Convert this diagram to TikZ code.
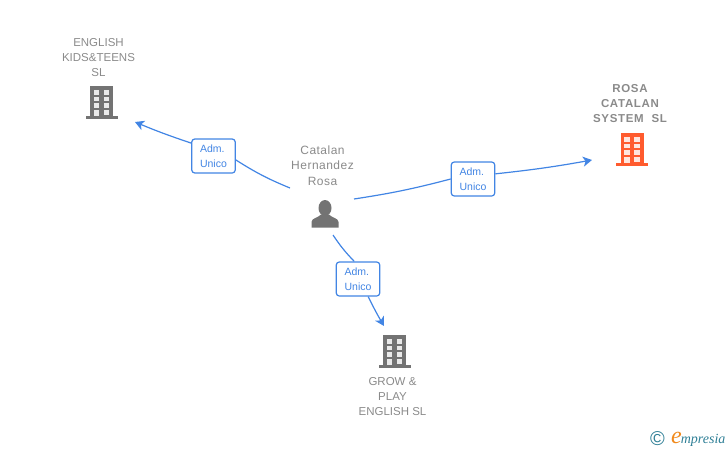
\documentclass[tikz,border=0pt]{standalone}
\usepackage{fontspec}
\setmainfont{Liberation Sans}
\newfontfamily\titlefont[LetterSpace=6]{Liberation Sans}
\newfontfamily\labelfont[LetterSpace=4]{Liberation Sans}
\newfontfamily\logofont{Liberation Serif}
\usepackage{tikz}
\usetikzlibrary{positioning}
\usetikzlibrary{arrows.meta}
\definecolor{linkblue}{HTML}{4285E4}
\definecolor{labelgrey}{HTML}{8A8A8A}
\definecolor{icongrey}{HTML}{737373}
\definecolor{mainorange}{HTML}{FF5B2E}
\definecolor{logoteal}{HTML}{2F7F96}
\definecolor{logoorange}{HTML}{F08A1D}
\tikzset{
  link/.style={draw=linkblue, line width=1.2pt},
  role/.style={draw=linkblue, line width=1.2pt, rounded corners=3pt, fill=white,
    minimum width=43.5pt, minimum height=34pt, inner sep=0pt, align=left,
    text=linkblue, font=\fontsize{10.5}{15}\selectfont},
  company/.style={text=labelgrey, align=center, inner sep=0pt, font=\fontsize{11.5}{15}\selectfont},
  person/.style={text=labelgrey, align=center, inner sep=0pt, font=\labelfont\fontsize{12}{15.5}\selectfont},
  mainco/.style={text=labelgrey, align=center, inner sep=0pt, font=\titlefont\bfseries\fontsize{11.5}{15}\selectfont},
  pics/tower/.style={code={
    \fill [#1] (-11.5,-17) rectangle (11.5,13);
    \fill [#1] (-16,13) rectangle (16,16);
    \foreach \c in {-8,2}
      \foreach \r in {-13,-6.5,0}
        \fill [white, opacity=.85] (\c,\r) rectangle ++(5.5,4.5);
    \fill [white, opacity=.85] (-8,7) rectangle ++(5.5,6);
    \fill [white, opacity=.85] (2,7) rectangle ++(5.5,4.5);
  }},
}
\begin{document}
\begin{tikzpicture}[x=1pt, y=-1pt, >={Stealth[length=9pt, width=10pt, inset=2.5pt]}]%
\useasboundingbox (0,0) rectangle (728,450);

\pic at (101.5,103) {tower=icongrey};
\pic at (632,150) {tower=mainorange};
\pic at (394.5,352) {tower=icongrey};

% person icon
\fill [icongrey] (325,208) ellipse (6.5 and 8);
\fill [icongrey] (311.5,227.5) -- (311.5,222) .. controls (311.5,218) and (318,218) .. (321,214.5)
  -- (329,214.5) .. controls (332,218) and (338.5,218) .. (338.5,222) -- (338.5,227.5) -- cycle;

\node [company] (english) at (98.5,58) {ENGLISH\\KIDS\&TEENS\\SL};
\node [mainco] (rosa) at (630,104) {ROSA\\CATALAN\\SYSTEM\ \ SL};
\node [company] (grow) at (392.5,397) {GROW \&\\PLAY\\ENGLISH SL};
\node [person] (catalan) at (322.5,165.5) {Catalan\\Hernandez\\Rosa};

\node [role] (adm-left) at (213.5,156) {Adm.\\Unico};
\node [role] (adm-right) at (473,179) {Adm.\\Unico};
\node [role] (adm-down) at (358,279) {Adm.\\Unico};

\coordinate (from-left) at (290,188);
\coordinate (from-right) at (354,199);
\coordinate (from-down) at (333,235);
\coordinate (to-english) at (135,122);
\coordinate (to-rosa) at (592,160);
\coordinate (to-grow) at (384,326);

\draw [link] (from-left) to [bend left=5] (adm-left.-10);
\draw [link, ->] (adm-left.150) to [bend left=2] (to-english);
\draw [link] (from-right) to [bend right=3] (adm-right.west);
\draw [link, ->] (adm-right.13) to [bend right=2] (to-rosa);
\draw [link] (from-down) to [bend right=5] (adm-down.102);
\draw [link, ->] (adm-down.-60) to [bend right=2] (to-grow);

\node [inner sep=0pt, text=logoteal, font=\fontsize{20}{20}\selectfont] (copyright) at (657.5,438.5) {©};
\node [inner sep=0pt, text=logoteal, anchor=base west, font=\logofont\itshape\fontsize{14}{14}\selectfont]
  (logo) at (671,443) {\textcolor{logoorange}{\fontsize{24}{24}\selectfont e}\hspace{-1pt}mpresia};

\end{tikzpicture}
\end{document}
